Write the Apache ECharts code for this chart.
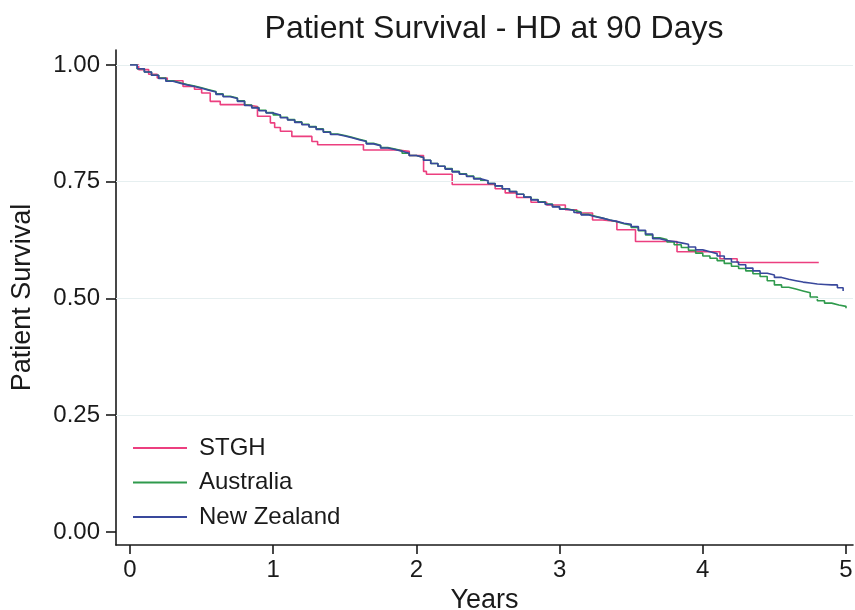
<!DOCTYPE html>
<html>
<head>
<meta charset="utf-8">
<title>Patient Survival - HD at 90 Days</title>
<script src="https://cdn.jsdelivr.net/npm/echarts@6/dist/echarts.min.js"></script>
<style>
  html, body { margin: 0; padding: 0; background: #fff; }
  #chart { width: 855px; height: 610px; }
</style>
</head>
<body>
<div id="chart"></div>
<script>
// Kaplan-Meier patient survival, haemodialysis patients surviving to 90 days.
const seriesNames = ['STGH', 'Australia', 'New Zealand'];
const xTicks = [0, 1, 2, 3, 4, 5];
const yTicks = [0, 0.25, 0.5, 0.75, 1];
const gridValues = [0.25, 0.5, 0.75, 1];

// STGH (single centre) step times (years) and survival
const stghTime = [0, 0.06, 0.13, 0.19, 0.26, 0.37, 0.45, 0.50, 0.56, 0.63, 0.80, 0.89, 0.98, 1.01, 1.05,
  1.13, 1.27, 1.31, 1.63, 1.87, 1.95, 2.05, 2.07, 2.25, 2.55, 2.62, 2.70, 2.80, 2.91, 3.04, 3.12,
  3.23, 3.30, 3.40, 3.53, 3.82, 4.12, 4.24, 4.81];
const stghSurv = [1.000, 0.990, 0.980, 0.972, 0.966, 0.954, 0.948, 0.940, 0.922, 0.915, 0.911, 0.890, 0.876, 0.866, 0.858,
  0.847, 0.836, 0.829, 0.818, 0.815, 0.806, 0.772, 0.766, 0.744, 0.735, 0.726, 0.716, 0.706, 0.700, 0.690, 0.683,
  0.668, 0.665, 0.647, 0.622, 0.600, 0.585, 0.577, 0.577];

// Australia
const ausTime = [0, 0.05, 0.10, 0.15, 0.20, 0.25, 0.30, 0.35, 0.40, 0.45, 0.50, 0.55, 0.60, 0.65, 0.70,
  0.75, 0.80, 0.85, 0.90, 0.95, 1.00, 1.05, 1.10, 1.15, 1.20, 1.25, 1.30, 1.35, 1.40, 1.45,
  1.50, 1.55, 1.60, 1.65, 1.70, 1.75, 1.80, 1.85, 1.90, 1.95, 2.00, 2.05, 2.10, 2.15, 2.20,
  2.25, 2.30, 2.35, 2.40, 2.45, 2.50, 2.55, 2.60, 2.65, 2.70, 2.75, 2.80, 2.85, 2.90, 2.95,
  3.00, 3.05, 3.10, 3.15, 3.20, 3.25, 3.30, 3.35, 3.40, 3.45, 3.50, 3.55, 3.60, 3.65, 3.70,
  3.75, 3.80, 3.85, 3.90, 3.95, 4.00, 4.05, 4.10, 4.15, 4.20, 4.25, 4.30, 4.35, 4.40, 4.45,
  4.50, 4.55, 4.60, 4.65, 4.70, 4.75, 4.80, 4.85, 4.90, 4.95, 5.00];
const ausSurv = [1.000, 0.992, 0.985, 0.978, 0.972, 0.966, 0.962, 0.958, 0.955, 0.951, 0.947, 0.943, 0.938, 0.933, 0.929,
  0.923, 0.914, 0.909, 0.903, 0.898, 0.893, 0.888, 0.883, 0.878, 0.873, 0.868, 0.863, 0.857, 0.852, 0.849,
  0.845, 0.841, 0.837, 0.832, 0.828, 0.823, 0.820, 0.816, 0.811, 0.806, 0.802, 0.796, 0.789, 0.783, 0.778,
  0.772, 0.767, 0.762, 0.757, 0.752, 0.746, 0.741, 0.735, 0.729, 0.723, 0.717, 0.712, 0.707, 0.702, 0.697,
  0.692, 0.689, 0.685, 0.680, 0.676, 0.672, 0.668, 0.664, 0.660, 0.657, 0.652, 0.645, 0.636, 0.630, 0.626,
  0.621, 0.615, 0.609, 0.603, 0.597, 0.591, 0.586, 0.581, 0.575, 0.569, 0.564, 0.559, 0.553, 0.547, 0.538,
  0.529, 0.524, 0.520, 0.516, 0.512, 0.503, 0.495, 0.490, 0.486, 0.483, 0.479];

// New Zealand
const nzTime = [0, 0.05, 0.10, 0.15, 0.20, 0.25, 0.30, 0.35, 0.40, 0.45, 0.50, 0.55, 0.60, 0.65, 0.70,
  0.75, 0.80, 0.85, 0.90, 0.95, 1.00, 1.05, 1.10, 1.15, 1.20, 1.25, 1.30, 1.35, 1.40, 1.45,
  1.50, 1.55, 1.60, 1.65, 1.70, 1.75, 1.80, 1.85, 1.90, 1.95, 2.00, 2.05, 2.10, 2.15, 2.20,
  2.25, 2.30, 2.35, 2.40, 2.45, 2.50, 2.55, 2.60, 2.65, 2.70, 2.75, 2.80, 2.85, 2.90, 2.95,
  3.00, 3.05, 3.10, 3.15, 3.20, 3.25, 3.30, 3.35, 3.40, 3.45, 3.50, 3.55, 3.60, 3.65, 3.70,
  3.75, 3.80, 3.85, 3.90, 3.95, 4.00, 4.05, 4.10, 4.15, 4.20, 4.25, 4.30, 4.35, 4.40, 4.45,
  4.50, 4.55, 4.60, 4.65, 4.70, 4.75, 4.80, 4.85, 4.90, 4.94, 4.98];
const nzSurv = [1.000, 0.992, 0.985, 0.978, 0.971, 0.965, 0.961, 0.957, 0.954, 0.950, 0.946, 0.942, 0.937, 0.932, 0.928,
  0.922, 0.913, 0.908, 0.902, 0.897, 0.893, 0.887, 0.882, 0.877, 0.872, 0.867, 0.862, 0.856, 0.851, 0.848,
  0.844, 0.840, 0.836, 0.831, 0.827, 0.822, 0.819, 0.815, 0.811, 0.806, 0.802, 0.796, 0.789, 0.783, 0.777,
  0.771, 0.766, 0.761, 0.756, 0.752, 0.746, 0.741, 0.735, 0.729, 0.723, 0.717, 0.711, 0.706, 0.701, 0.696,
  0.691, 0.689, 0.684, 0.679, 0.675, 0.672, 0.668, 0.665, 0.661, 0.659, 0.654, 0.646, 0.638, 0.628, 0.624,
  0.622, 0.619, 0.616, 0.610, 0.604, 0.600, 0.596, 0.591, 0.585, 0.578, 0.572, 0.565, 0.559, 0.554, 0.550,
  0.545, 0.541, 0.538, 0.535, 0.533, 0.531, 0.530, 0.529, 0.529, 0.523, 0.516];

const colors = ['#ec3f7f', '#2f9a4c', '#39489c'];
const FONT = '"Liberation Sans", Arial, Helvetica, sans-serif';
const INK = '#1a1a1a';

function pairs(t, s) {
  return t.map((v, i) => [v, s[i]]);
}

const chart = echarts.init(document.getElementById('chart'), null, { renderer: 'canvas' });

const lineSeries = [
  pairs(stghTime, stghSurv),
  pairs(ausTime, ausSurv),
  pairs(nzTime, nzSurv)
].map((data, i) => ({
  name: seriesNames[i],
  type: 'line',
  step: 'end',
  data: data,
  showSymbol: false,
  symbol: 'none',
  silent: true,
  animation: false,
  lineStyle: { color: colors[i], width: 1.6 },
  itemStyle: { color: colors[i] },
  z: 3 + i
}));

// light horizontal reference lines
lineSeries.push({
  name: 'grid',
  type: 'line',
  data: [],
  silent: true,
  animation: false,
  markLine: {
    silent: true,
    symbol: ['none', 'none'],
    label: { show: false },
    animation: false,
    lineStyle: { color: '#e6eff0', width: 1.2, type: 'solid' },
    data: gridValues.map(v => ({ yAxis: v }))
  },
  z: 1
});

chart.setOption({
  animation: false,
  backgroundColor: '#ffffff',
  title: {
    text: 'Patient Survival - HD at 90 Days',
    left: 489,
    textAlign: 'center',
    top: 8,
    textStyle: { fontFamily: FONT, fontSize: 32, fontWeight: 'normal', color: INK }
  },
  legend: {
    data: seriesNames,
    orient: 'vertical',
    left: 128,
    top: 431,
    icon: 'rect',
    itemWidth: 54,
    itemHeight: 2,
    itemGap: 10.5,
    textStyle: { fontFamily: FONT, fontSize: 24, color: INK, padding: [0, 0, 0, 7] }
  },
  grid: { left: 116, right: 2, top: 50, bottom: 65, containLabel: false, outerBoundsMode: 'none' },
  xAxis: {
    type: 'value',
    min: -0.098,
    max: 5.049,
    name: 'Years',
    nameLocation: 'middle',
    nameGap: 38,
    nameTextStyle: { fontFamily: FONT, fontSize: 27, color: INK },
    axisLine: { show: true, onZero: false, lineStyle: { color: INK, width: 1.6 } },
    axisTick: { show: true, length: 9, customValues: xTicks, lineStyle: { color: INK, width: 1.6 } },
    axisLabel: { customValues: xTicks, fontFamily: FONT, fontSize: 24, color: INK, margin: 13 },
    splitLine: { show: false }
  },
  yAxis: {
    type: 'value',
    min: -0.028,
    max: 1.032,
    name: 'Patient Survival',
    nameLocation: 'middle',
    nameGap: 80,
    nameTextStyle: { fontFamily: FONT, fontSize: 27, color: INK },
    axisLine: { show: true, onZero: false, lineStyle: { color: INK, width: 1.6 } },
    axisTick: { show: true, length: 10, customValues: yTicks, lineStyle: { color: INK, width: 1.6 } },
    axisLabel: {
      customValues: yTicks,
      fontFamily: FONT, fontSize: 24, color: INK, margin: 16,
      formatter: v => v.toFixed(2)
    },
    splitLine: { show: false }
  },
  series: lineSeries
});
</script>
</body>
</html>
